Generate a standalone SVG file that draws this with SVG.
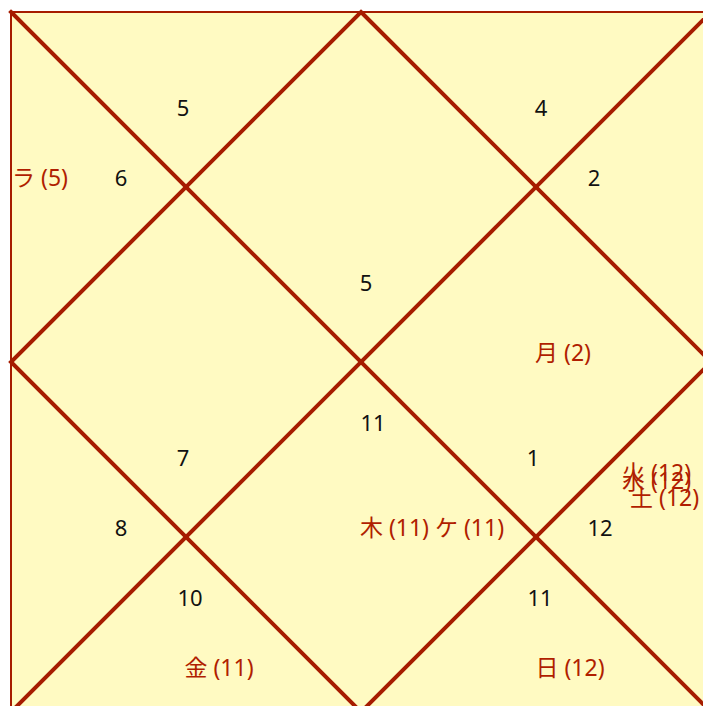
<svg xmlns="http://www.w3.org/2000/svg" width="703" height="706" viewBox="0 0 703 706">
<style>
.ln{stroke:#A61C00;stroke-width:4;fill:none;stroke-linecap:square}
.num{font-family:"Noto Sans","Noto Sans CJK JP",sans-serif;font-size:22px;fill:#111;text-anchor:middle;dominant-baseline:central}
.pl{font-family:"Noto Sans","Noto Sans CJK JP",sans-serif;font-size:23px;fill:#B01E00;text-anchor:middle;dominant-baseline:central}
.pls{font-family:"Noto Sans","Noto Sans CJK JP",sans-serif;font-size:23px;fill:#B01E00;text-anchor:start;dominant-baseline:central}
</style>
<rect width="703" height="706" fill="#ffffff"/>
<g id="chart">
<rect x="11" y="12" width="700" height="700" fill="#FFFAC2" stroke="#A61C00" stroke-width="2"/>
</g>
<g id="connectors">
<line class="ln" x1="11" y1="12" x2="711" y2="712"/>
<line class="ln" x1="711" y1="12" x2="11" y2="712"/>
<polygon class="ln" points="361,12 711,362 361,712 11,362"/>
</g>
<g id="h1"><text class="num" x="366" y="282">5</text></g>
<g id="h2"><text class="num" x="183" y="107">5</text></g>
<g id="h3"><text class="num" x="121" y="177">6</text><text class="pls" x="12" y="177">ラ (5)</text></g>
<g id="h4"><text class="num" x="183" y="457">7</text></g>
<g id="h5"><text class="num" x="121" y="527">8</text></g>
<g id="h6"><text class="num" x="190" y="597">10</text><text class="pl" x="219" y="667">金 (11)</text></g>
<g id="h7"><text class="num" x="373" y="422">11</text><text class="pl" x="432" y="527">木 (11) ケ (11)</text></g>
<g id="h8"><text class="num" x="540" y="597">11</text><text class="pl" x="570" y="667">日 (12)</text></g>
<g id="h9"><text class="num" x="600" y="527">12</text><text class="pls" x="622" y="472">火 (12)</text><text class="pls" x="622" y="480">水 (12)</text><text class="pls" x="630" y="497">土 (12)</text></g>
<g id="h10"><text class="num" x="533" y="457">1</text></g>
<g id="h11"><text class="num" x="594" y="177">2</text><text class="pl" x="563" y="352">月 (2)</text></g>
<g id="h12"><text class="num" x="541" y="107">4</text></g>
</svg>
